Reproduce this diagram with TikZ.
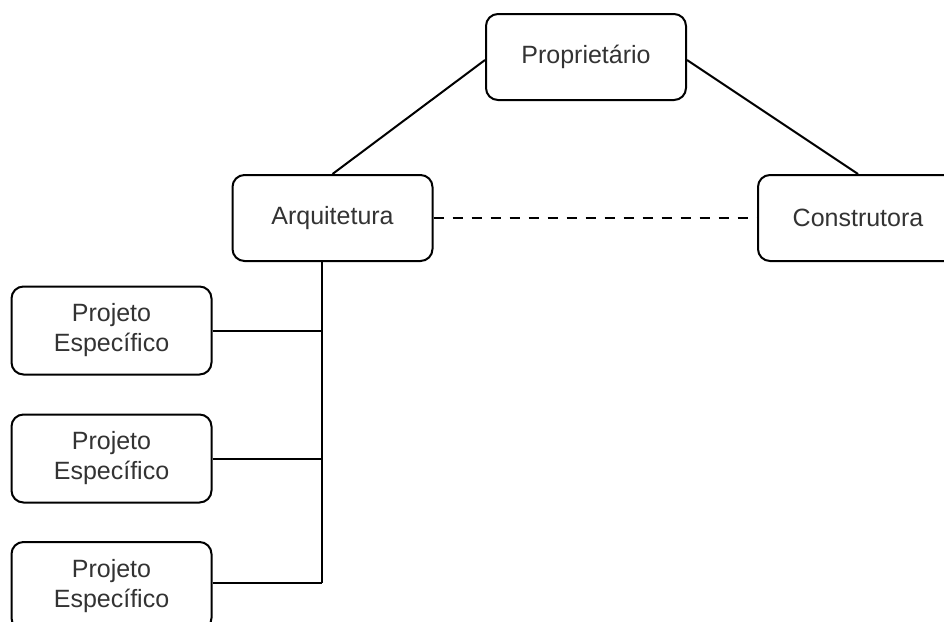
\documentclass[tikz,border=0pt]{standalone}
\usepackage{fontspec}
\setmainfont{Liberation Sans}
\begin{document}
\begin{tikzpicture}[x=1pt,y=-1pt,
  box/.style={draw=black, line width=2pt, rounded corners=12pt, fill=white,
    minimum width=200pt, minimum height=86pt, align=center, inner sep=0pt,
    font=\fontsize{25}{30}\selectfont, text=black!80},
  conn/.style={line width=2pt, draw=black}]
\clip (0,0) rectangle (944,621);
\fill[white] (0,0) rectangle (944,621);
\node[box] (prop) at (586,57) {Proprietário};
\node[box] (arq) at (332.5,218) {Arquitetura};
\node[box] (con) at (858,218) {Construtora};
\node[box, minimum height=88pt] (p1) at (111.5,330.5) {Projeto\\Específico};
\node[box, minimum height=88pt] (p2) at (111.5,458.5) {Projeto\\Específico};
\node[box, minimum height=88pt] (p3) at (111.5,586) {Projeto\\Específico};
\coordinate (j1) at (322,330.5);
\coordinate (j2) at (322,458.5);
\coordinate (j3) at (322,583);
\draw[conn] (prop.west |- 0,60) -- (arq.north);
\draw[conn] (prop.east |- 0,60) -- (con.north);
\draw[conn, dash pattern=on 10pt off 9pt] (arq.east) -- (con.west);
\draw[conn] (arq.south -| j1) -- (j3);
\draw[conn] (p1.east) -- (j1);
\draw[conn] (p2.east) -- (j2);
\draw[conn] (p3.east |- j3) -- (j3);
\end{tikzpicture}
\end{document}
